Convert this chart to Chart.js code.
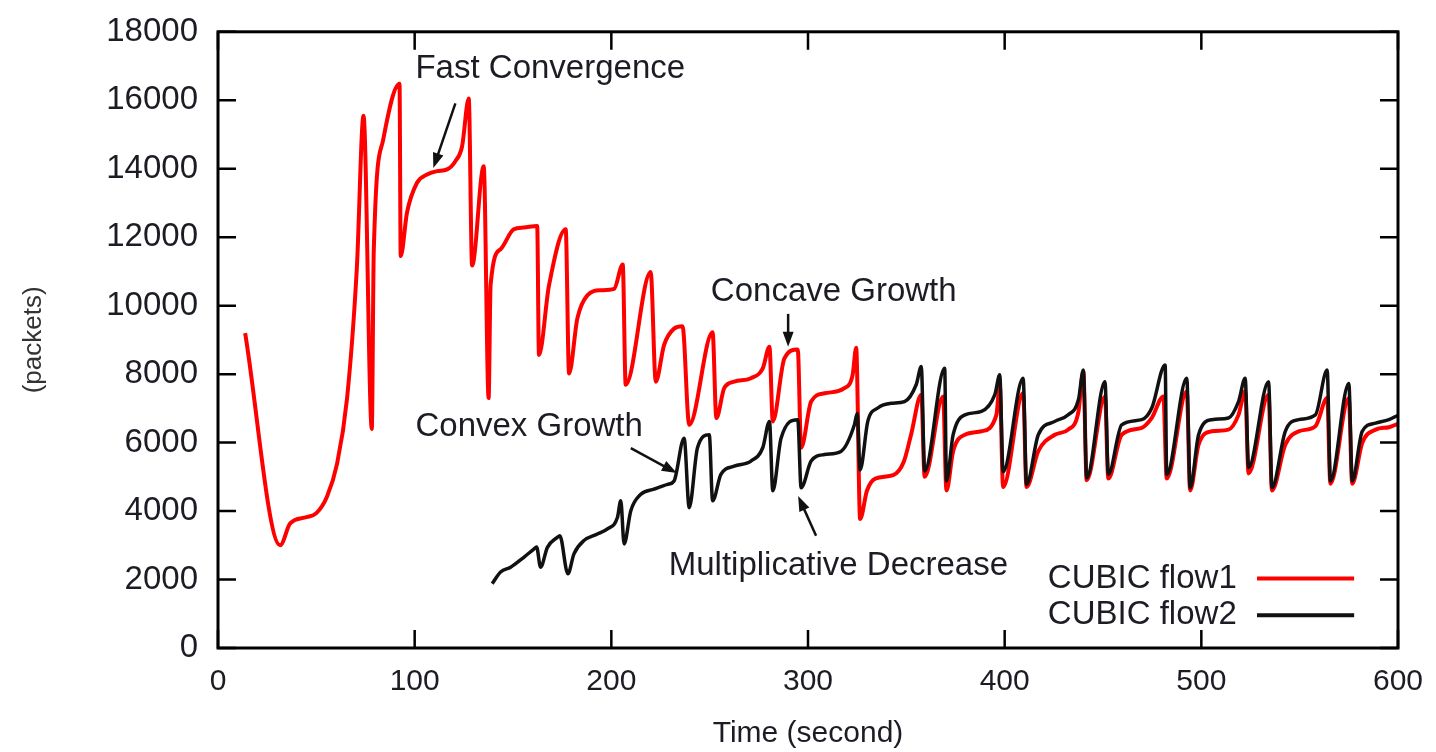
<!DOCTYPE html>
<html>
<head>
<meta charset="utf-8">
<script src="https://cdn.jsdelivr.net/npm/chart.js@4.4.1/dist/chart.umd.min.js"></script>
<style>
  body { margin: 0; background: #fff; }
  canvas { display: block; }
</style>
</head>
<body>
<canvas id="cwnd-chart" width="1436" height="752"></canvas>
<script>
// data (time in s, cwnd in packets)
const flow1Time = [13.8, 31.6, 36.7, 45, 50, 55.4, 60.5, 65.6, 70.6, 74, 78.2, 79.2, 84, 92.3, 92.9,
  96.1, 101.2, 106.3, 111.4, 116.5, 120.7, 124.1, 127.5, 129.2, 135.1, 137.6, 138.6, 143.7, 150.4,
  155.5, 162.3, 163.2, 168.3, 176.8, 178.5, 182.7, 187.8, 194.6, 201.4, 205.8, 207.3, 220, 222.6,
  226.8, 231.9, 236.2, 239.6, 251.5, 253.4, 257.4, 262.5, 271, 277, 280.4, 282.1, 288, 294.8, 296.5,
  301.6, 308.4, 318.5, 322.7, 324.5, 326.5, 330, 334.2, 343.3, 348.7, 352.4, 357.6, 359.3, 368.7,
  370.4, 373.8, 379.8, 388.2, 395.8, 397.5, 399.2, 409.4, 411.1, 417.1, 425.5, 432.3, 437.5, 440,
  441.7, 451, 452.7, 459.5, 469.7, 474.8, 480.7, 482.4, 492.6, 494.3, 498.6, 505.4, 513.8, 518.9,
  522.3, 524, 534.2, 535.9, 542.7, 549.5, 558, 564, 565.6, 575, 576.7, 581.8, 588.6, 595.4, 600];
const flow1Cwnd = [9200, 3000, 3640, 3820, 3940, 4420, 5370, 7280, 11100, 15550, 6400, 11600, 14850, 16480, 11450,
  12720, 13590, 13830, 13930, 13980, 14220, 14650, 16050, 11170, 14070, 7300, 10600, 11650, 12230,
  12280, 12330, 8560, 10590, 12230, 8020, 9620, 10300, 10450, 10490, 11200, 7690, 10980, 7780,
  8850, 9330, 9400, 6520, 9220, 6720, 7590, 7780, 7880, 8170, 8800, 6620, 8460, 8720, 5850,
  7200, 7440, 7590, 7980, 8770, 3770, 4600, 4950, 5050, 5440, 6230, 7400, 5000, 7350,
  4600, 5750, 6230, 6330, 6810, 7690, 4700, 7450, 4700, 5750, 6230, 6380, 6900, 8070,
  4900, 7350, 4950, 6230, 6430, 6720, 7350, 4950, 7500, 4600, 5940, 6330, 6380, 6810,
  7500, 5100, 7400, 4600, 5940, 6330, 6480, 7300, 4800, 7300, 4800, 5990, 6380, 6450, 6550];

const flow2Time = [139.4, 143.7, 148.8, 155.5, 160.6, 162, 164, 167.5, 172.5, 173.8, 177.9, 181, 186.1,
  192.9, 198, 203.1, 204.8, 206.5, 209.9, 215, 221.7, 228.6, 231.9, 237, 239.6, 243.8, 249.8, 251.5,
  255.7, 262.5, 271, 277, 280.4, 282.1, 286.3, 294.8, 296.5, 301.6, 308.4, 316.9, 323.6, 325, 326.5,
  330.4, 335.5, 342.3, 349.1, 355, 357.6, 359.3, 369.5, 370.4, 373.8, 379.8, 388.2, 395, 397.5, 399.2,
  409.4, 411.1, 417.1, 425.5, 432.3, 437.5, 440, 441.7, 451, 452.7, 459.5, 469.7, 474.8, 481.6, 482.4,
  492.6, 494.3, 498.6, 505.4, 513.8, 518.9, 522.3, 524, 534.2, 535.9, 542.7, 549.5, 558, 564, 565.6,
  575, 576.7, 581.8, 588.6, 595.4, 600];
const flow2Cwnd = [1880, 2220, 2360, 2650, 2890, 2950, 2360, 2940, 3230, 3280, 2170, 2750, 3140,
  3330, 3480, 3810, 4300, 3040, 4010, 4490, 4640, 4780, 4880, 6130, 4100, 5850, 6230, 4300,
  5070, 5310, 5460, 5850, 6620, 4590, 6130, 6670, 4680, 5460, 5650, 5750, 6520, 6850, 5200,
  6620, 7010, 7150, 7200, 7690, 8220, 5170, 8170, 4880, 6230, 6810, 6910, 7400, 7980, 5150,
  7880, 4780, 6230, 6620, 6810, 7250, 8120, 4970, 7780, 5070, 6520, 6670, 7010, 8270, 5070,
  7880, 4680, 6230, 6670, 6720, 7200, 7880, 5270, 7780, 4680, 6330, 6670, 6810, 8120, 4880,
  7730, 4880, 6330, 6570, 6670, 6800];

const seriesNames = ["CUBIC flow1", "CUBIC flow2"];
const xTicks = [0, 100, 200, 300, 400, 500, 600];
const yTicks = [0, 2000, 4000, 6000, 8000, 10000, 12000, 14000, 16000, 18000];

function toPoints(times, values) {
  return times.map((t, i) => ({ x: t, y: values[i] }));
}

const FONT = "'Liberation Sans', Arial, sans-serif";
const TEXT = "#1c1c24";

// frame with inward ticks like gnuplot
const framePlugin = {
  id: "frame",
  afterDraw(chart) {
    const { ctx, chartArea: a, scales } = chart;
    ctx.save();
    ctx.strokeStyle = "#000";
    ctx.lineWidth = 2.5;
    const len = 18;
    ctx.beginPath();
    yTicks.forEach((v) => {
      const y = scales.y.getPixelForValue(v);
      ctx.moveTo(a.left, y); ctx.lineTo(a.left + len, y);
      ctx.moveTo(a.right, y); ctx.lineTo(a.right - len, y);
    });
    xTicks.forEach((v) => {
      const x = scales.x.getPixelForValue(v);
      ctx.moveTo(x, a.bottom); ctx.lineTo(x, a.bottom - len);
      ctx.moveTo(x, a.top); ctx.lineTo(x, a.top + len);
    });
    ctx.stroke();
    ctx.lineWidth = 3;
    ctx.strokeRect(a.left, a.top, a.right - a.left, a.bottom - a.top);
    ctx.restore();
  },
};

// annotation texts and arrows, legend on the right
const notesPlugin = {
  id: "notes",
  afterDraw(chart) {
    const { ctx, scales } = chart;
    const px = (t) => scales.x.getPixelForValue(t);
    const py = (v) => scales.y.getPixelForValue(v);

    ctx.save();
    ctx.fillStyle = TEXT;
    ctx.font = "33px " + FONT;
    ctx.textBaseline = "middle";
    ctx.textAlign = "left";
    ctx.fillText("Fast Convergence", px(100.4), py(16930));
    ctx.fillText("Concave Growth", px(250.6), py(10390));
    ctx.fillText("Convex Growth", px(100.4), py(6470));
    ctx.fillText("Multiplicative Decrease", px(229.2), py(2410));

    function arrow(t1, v1, t2, v2) {
      const x1 = px(t1), y1 = py(v1), x2 = px(t2), y2 = py(v2);
      const ang = Math.atan2(y2 - y1, x2 - x1);
      ctx.strokeStyle = "#111";
      ctx.lineWidth = 2.5;
      ctx.beginPath();
      ctx.moveTo(x1, y1);
      ctx.lineTo(x2 - 10 * Math.cos(ang), y2 - 10 * Math.sin(ang));
      ctx.stroke();
      ctx.fillStyle = "#111";
      ctx.beginPath();
      ctx.moveTo(x2, y2);
      ctx.lineTo(x2 - 16 * Math.cos(ang - 0.35), y2 - 16 * Math.sin(ang - 0.35));
      ctx.lineTo(x2 - 16 * Math.cos(ang + 0.35), y2 - 16 * Math.sin(ang + 0.35));
      ctx.closePath();
      ctx.fill();
    }
    arrow(120.7, 15910, 109.5, 14020);
    arrow(289.9, 9760, 289.9, 8800);
    arrow(209.9, 5840, 233.3, 5110);
    arrow(304.1, 3280, 295, 4440);

    // legend
    ctx.font = "33px " + FONT;
    ctx.textAlign = "right";
    const rows = [2030, 960];
    chart.data.datasets.forEach((ds, i) => {
      const y = py(rows[i]);
      ctx.fillStyle = TEXT;
      ctx.fillText(seriesNames[i], px(518), y);
      ctx.strokeStyle = ds.borderColor;
      ctx.lineWidth = 4;
      ctx.beginPath();
      ctx.moveTo(px(528.3), y);
      ctx.lineTo(px(577.7), y);
      ctx.stroke();
    });
    ctx.restore();
  },
};

function initializeChart() {
  const ctx = document.getElementById("cwnd-chart").getContext("2d");

  new Chart(ctx, {
    type: "line",
    data: {
      datasets: [
        {
          label: seriesNames[0],
          data: toPoints(flow1Time, flow1Cwnd),
          borderColor: "#ff0000",
          borderWidth: 4,
          pointRadius: 0,
          cubicInterpolationMode: "monotone",
          order: 1,
        },
        {
          label: seriesNames[1],
          data: toPoints(flow2Time, flow2Cwnd),
          borderColor: "#111111",
          borderWidth: 3.5,
          pointRadius: 0,
          cubicInterpolationMode: "monotone",
          order: 0,
        },
      ],
    },
    options: {
      responsive: false,
      devicePixelRatio: 1,
      animation: false,
      layout: { padding: { left: 0, right: 38, top: 28, bottom: 0 } },
      plugins: {
        legend: { display: false },
        tooltip: { enabled: false },
      },
      scales: {
        x: {
          type: "linear",
          min: 0,
          max: 600,
          afterFit(scale) { scale.height = 104; },
          afterBuildTicks(scale) { scale.ticks = xTicks.map((v) => ({ value: v })); },
          grid: { display: false },
          border: { display: false },
          ticks: {
            padding: 8,
            color: TEXT,
            font: { family: FONT, size: 30 },
            callback: (v) => String(v),
          },
          title: {
            display: true,
            text: "Time (second)",
            color: TEXT,
            padding: { top: 0, bottom: 0 },
            font: { family: FONT, size: 30 },
          },
        },
        y: {
          min: 0,
          max: 18000,
          afterFit(scale) { scale.width = 218; },
          afterBuildTicks(scale) { scale.ticks = yTicks.map((v) => ({ value: v })); },
          grid: { display: false },
          border: { display: false },
          ticks: {
            padding: 12,
            color: TEXT,
            font: { family: FONT, size: 33 },
            callback: (v) => String(v),
          },
          title: {
            display: true,
            text: "(packets)",
            color: "#333",
            padding: { top: 18, bottom: 0 },
            font: { family: FONT, size: 26 },
          },
        },
      },
    },
    plugins: [framePlugin, notesPlugin],
  });
}

document.addEventListener("DOMContentLoaded", initializeChart);
</script>
</body>
</html>
